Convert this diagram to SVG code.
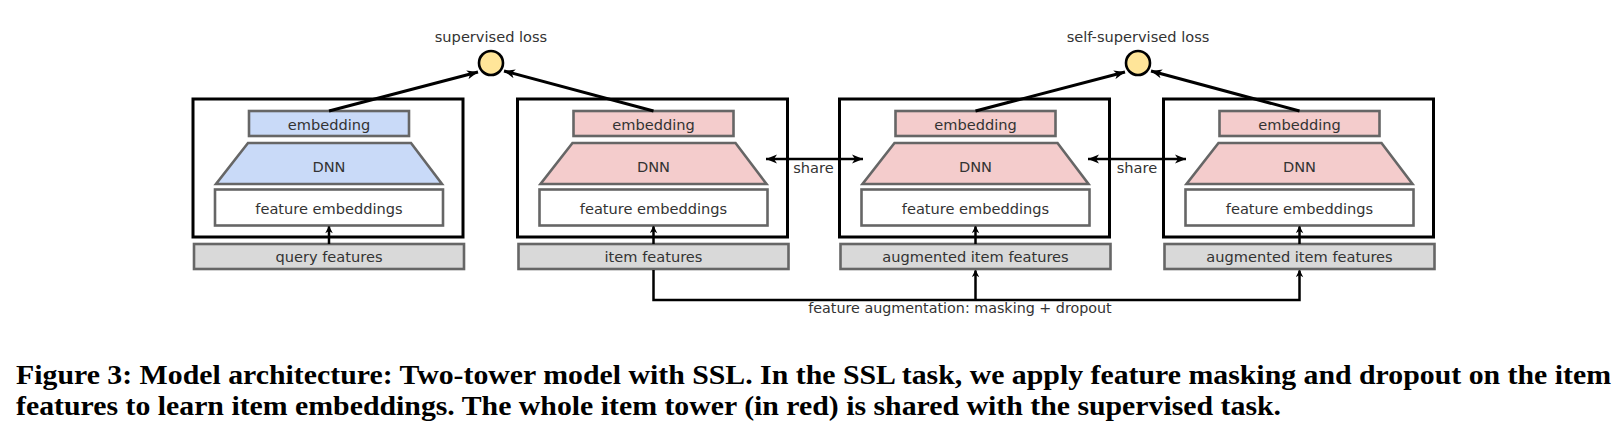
<svg xmlns="http://www.w3.org/2000/svg" width="1617" height="430" viewBox="0 0 1617 430">
<style>
.outer{fill:#fff;stroke:#000;stroke-width:3}
.blue{fill:#c9daf8;stroke:#666;stroke-width:2.6}
.pink{fill:#f4cccc;stroke:#666;stroke-width:2.6}
.white{fill:#fff;stroke:#666;stroke-width:2.6}
.gray{fill:#d9d9d9;stroke:#666;stroke-width:2.6}
.loss{fill:#ffe599;stroke:#000;stroke-width:2.6}
.t{font-family:"DejaVu Sans",sans-serif;font-size:14.6px;fill:#333;text-anchor:middle}
.line{fill:none;stroke:#000;stroke-width:3}
.thin{fill:none;stroke:#000;stroke-width:2.5}
.cap{font-family:"Liberation Serif",serif;font-weight:bold;font-size:28px;fill:#000}
</style>
<defs>
<marker id="open" viewBox="0 0 12 10" refX="11" refY="5" markerWidth="12" markerHeight="10" markerUnits="userSpaceOnUse" orient="auto-start-reverse">
<path d="M0,0.5 L11,5 L0,9.5 L3,5 Z" fill="#000"/>
</marker>
<marker id="up" viewBox="0 0 10 12" refX="9" refY="5" markerWidth="11" markerHeight="9" markerUnits="userSpaceOnUse" orient="auto">
<path d="M0,0 L10,5 L0,10 L3,5 Z" fill="#000"/>
</marker>
</defs>

<g id="tower-query" transform="translate(193,0)">
<rect class="outer" x="0" y="99" width="270" height="138"/>
<rect class="blue" x="56" y="111" width="160" height="25"/>
<text class="t" x="136" y="130">embedding</text>
<polygon class="blue" points="55,143 218,143 249,184 23,184"/>
<text class="t" x="136" y="171.5">DNN</text>
<rect class="white" x="22" y="189.5" width="228" height="36"/>
<text class="t" x="136" y="214">feature embeddings</text>
<rect class="gray" x="1" y="244" width="270" height="25"/>
<text class="t" x="136" y="261.5">query features</text>
</g>

<g id="tower-item" transform="translate(517.5,0)">
<rect class="outer" x="0" y="99" width="270" height="138"/>
<rect class="pink" x="56" y="111" width="160" height="25"/>
<text class="t" x="136" y="130">embedding</text>
<polygon class="pink" points="55,143 218,143 249,184 23,184"/>
<text class="t" x="136" y="171.5">DNN</text>
<rect class="white" x="22" y="189.5" width="228" height="36"/>
<text class="t" x="136" y="214">feature embeddings</text>
<rect class="gray" x="1" y="244" width="270" height="25"/>
<text class="t" x="136" y="261.5">item features</text>
</g>

<g id="tower-aug1" transform="translate(839.5,0)">
<rect class="outer" x="0" y="99" width="270" height="138"/>
<rect class="pink" x="56" y="111" width="160" height="25"/>
<text class="t" x="136" y="130">embedding</text>
<polygon class="pink" points="55,143 218,143 249,184 23,184"/>
<text class="t" x="136" y="171.5">DNN</text>
<rect class="white" x="22" y="189.5" width="228" height="36"/>
<text class="t" x="136" y="214">feature embeddings</text>
<rect class="gray" x="1" y="244" width="270" height="25"/>
<text class="t" x="136" y="261.5">augmented item features</text>
</g>

<g id="tower-aug2" transform="translate(1163.5,0)">
<rect class="outer" x="0" y="99" width="270" height="138"/>
<rect class="pink" x="56" y="111" width="160" height="25"/>
<text class="t" x="136" y="130">embedding</text>
<polygon class="pink" points="55,143 218,143 249,184 23,184"/>
<text class="t" x="136" y="171.5">DNN</text>
<rect class="white" x="22" y="189.5" width="228" height="36"/>
<text class="t" x="136" y="214">feature embeddings</text>
<rect class="gray" x="1" y="244" width="270" height="25"/>
<text class="t" x="136" y="261.5">augmented item features</text>
</g>

<g id="loss-supervised">
<circle class="loss" cx="491" cy="63" r="12"/>
<text class="t" x="491" y="42">supervised loss</text>
</g>
<g id="loss-ssl">
<circle class="loss" cx="1138" cy="63" r="12"/>
<text class="t" x="1138" y="42">self-supervised loss</text>
</g>

<g id="connectors">
<line class="line" x1="329" y1="111" x2="478" y2="72" marker-end="url(#open)"/>
<line class="line" x1="653.5" y1="111" x2="504" y2="71" marker-end="url(#open)"/>
<line class="line" x1="975.5" y1="111" x2="1125" y2="72" marker-end="url(#open)"/>
<line class="line" x1="1299.5" y1="111" x2="1151" y2="71" marker-end="url(#open)"/>
<line class="thin" x1="766" y1="159" x2="863" y2="159" marker-start="url(#open)" marker-end="url(#open)"/>
<line class="thin" x1="1088" y1="159" x2="1186" y2="159" marker-start="url(#open)" marker-end="url(#open)"/>
<text class="t" x="813.5" y="172.5">share</text>
<text class="t" x="1137" y="172.5">share</text>
<line class="thin" x1="329" y1="244" x2="329" y2="226.5" marker-end="url(#up)"/>
<line class="thin" x1="653.5" y1="244" x2="653.5" y2="226.5" marker-end="url(#up)"/>
<line class="thin" x1="975.5" y1="244" x2="975.5" y2="226.5" marker-end="url(#up)"/>
<line class="thin" x1="1299.5" y1="244" x2="1299.5" y2="226.5" marker-end="url(#up)"/>
<polyline class="thin" points="653.5,270 653.5,300 1299.5,300 1299.5,270.5" marker-end="url(#up)"/>
<polyline class="thin" points="975.5,300 975.5,270.5" marker-end="url(#up)"/>
<text class="t" x="960" y="313" style="font-size:14.3px">feature augmentation: masking + dropout</text>
</g>

<text class="cap" x="16" y="384" textLength="1595" lengthAdjust="spacingAndGlyphs">Figure 3: Model architecture: Two-tower model with SSL. In the SSL task, we apply feature masking and dropout on the item</text>
<text class="cap" x="16" y="415" textLength="1265" lengthAdjust="spacingAndGlyphs">features to learn item embeddings. The whole item tower (in red) is shared with the supervised task.</text>
</svg>
